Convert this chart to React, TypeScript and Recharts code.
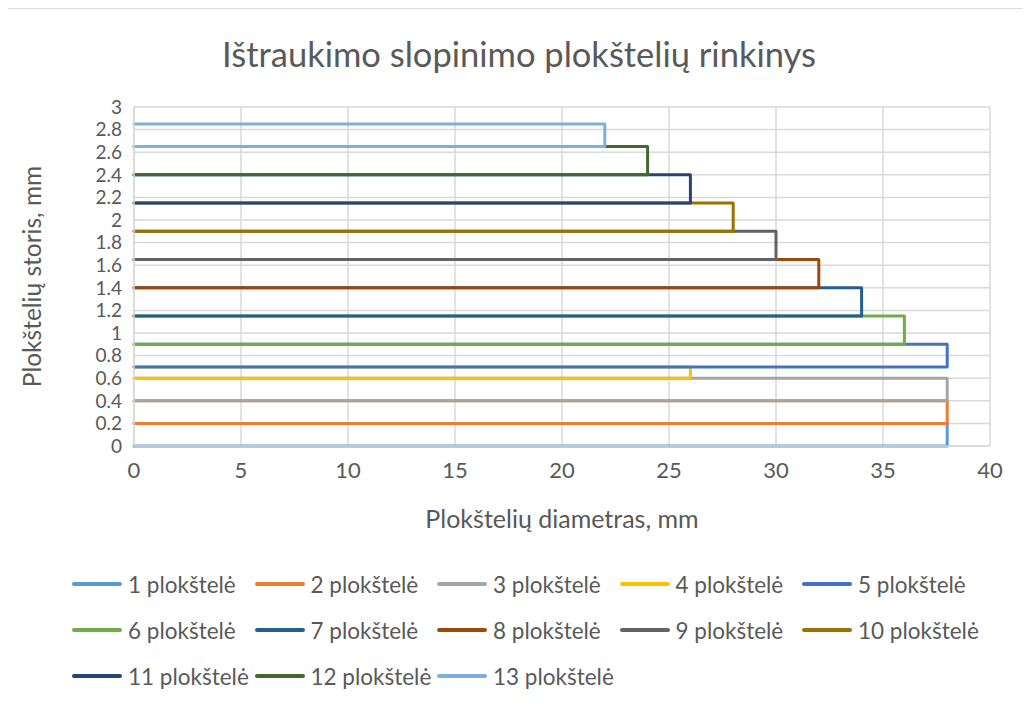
import React from 'react';
import { LineChart, Line, XAxis, YAxis, CartesianGrid, Legend } from 'recharts';

const seriesNames = [
  '1 plokštelė', '2 plokštelė', '3 plokštelė', '4 plokštelė', '5 plokštelė',
  '6 plokštelė', '7 plokštelė', '8 plokštelė', '9 plokštelė', '10 plokštelė',
  '11 plokštelė', '12 plokštelė', '13 plokštelė',
];
const diameters = [38, 38, 38, 26, 38, 36, 34, 32, 30, 28, 26, 24, 22];
const bottoms = [0, 0.2, 0.4, 0.6, 0.7, 0.9, 1.15, 1.4, 1.65, 1.9, 2.15, 2.4, 2.65];
const tops = [0.2, 0.4, 0.6, 0.7, 0.9, 1.15, 1.4, 1.65, 1.9, 2.15, 2.4, 2.65, 2.85];
const colors = [
  '#5B9BD5', '#ED7D31', '#A5A5A5', '#FFC000', '#4472C4', '#70AD47', '#255E91',
  '#9E480E', '#636363', '#997300', '#264478', '#43682B', '#7CAFDD',
];
const xTicks = [0, 5, 10, 15, 20, 25, 30, 35, 40];
const yTicks = [0, 0.2, 0.4, 0.6, 0.8, 1, 1.2, 1.4, 1.6, 1.8, 2, 2.2, 2.4, 2.6, 2.8, 3];

const title = 'Ištraukimo slopinimo plokštelių rinkinys';
const xTitle = 'Plokštelių diametras, mm';
const yTitle = 'Plokštelių storis, mm';

const FONT = 'Lato, "Open Sans", sans-serif';
const TEXT = '#595959';
const GRID = '#d9d9d9';

const series = seriesNames.map((name, i) => ({
  name,
  color: colors[i],
  data: [
    { x: 0, y: bottoms[i] },
    { x: diameters[i], y: bottoms[i] },
    { x: diameters[i], y: tops[i] },
    { x: 0, y: tops[i] },
  ],
}));

const XLabel = (props: any) => {
  const vb = props.viewBox || {};
  return (
    <text x={vb.x + vb.width / 2} y={509} textAnchor="middle" dominantBaseline="central"
      fill={TEXT} fontSize={25} fontFamily={FONT}>{xTitle}</text>
  );
};

const YLabel = (props: any) => {
  const vb = props.viewBox || {};
  const cx = 23;
  const cy = vb.y + vb.height / 2;
  return (
    <text x={cx} y={cy} textAnchor="middle" dominantBaseline="central"
      transform={`rotate(-90 ${cx} ${cy})`} fill={TEXT} fontSize={24.5} fontFamily={FONT}>{yTitle}</text>
  );
};

const renderLegend = () => {
  return (
    <div style={{ position: 'relative', width: 1022, height: 140 }}>
      {series.map((s, i) => {
        const col = i % 5;
        const row = Math.floor(i / 5);
        return (
          <div key={s.name} style={{
            position: 'absolute', left: 64 + col * 182.5, top: 15 + row * 46 - 14,
            height: 28, display: 'flex', alignItems: 'center', whiteSpace: 'nowrap',
          }}>
            <span style={{ display: 'inline-block', width: 50, height: 4, borderRadius: 2, background: s.color, marginRight: 6 }} />
            <span style={{ fontFamily: FONT, fontSize: 22.5, color: TEXT }}>{s.name}</span>
          </div>
        );
      })}
    </div>
  );
};

export default function App() {
  return (
    <div style={{ position: 'relative', width: 1022, height: 700, borderLeft: `1px solid ${GRID}`, borderTop: `1px solid ${GRID}`, marginLeft: -1, boxSizing: 'border-box' }}>
      <div style={{ position: 'absolute', left: 0, width: 1022, top: 24, textAlign: 'center', fontFamily: FONT, fontSize: 34.5, color: TEXT }}>
        {title}
      </div>
      <LineChart width={1021} height={699} margin={{ top: 98, right: 39, left: 15, bottom: 22 }}>
        <CartesianGrid stroke={GRID} strokeWidth={1.5} />
        <XAxis type="number" dataKey="x" domain={[0, 40]} ticks={xTicks} interval={0}
          axisLine={{ stroke: GRID, strokeWidth: 1.5 }} tickLine={false}
          tick={{ fill: TEXT, fontSize: 22, fontFamily: FONT }} tickMargin={10}
          height={90} label={<XLabel />} allowDuplicatedCategory={false} />
        <YAxis type="number" domain={[0, 3]} ticks={yTicks} interval={0}
          axisLine={{ stroke: GRID, strokeWidth: 1.5 }} tickLine={false}
          tick={{ fill: TEXT, fontSize: 19, fontFamily: FONT }} tickMargin={6}
          width={111} label={<YLabel />} />
        <Legend verticalAlign="bottom" height={150} content={renderLegend}
          wrapperStyle={{ top: 560, left: 0, bottom: 'auto', width: 1022 }} />
        {series.map((s) => (
          <Line key={s.name} name={s.name} data={s.data} dataKey="y" type="linear"
            stroke={s.color} strokeWidth={3} dot={false} activeDot={false}
            isAnimationActive={false} strokeLinejoin="round" strokeLinecap="round" />
        ))}
      </LineChart>
    </div>
  );
}
